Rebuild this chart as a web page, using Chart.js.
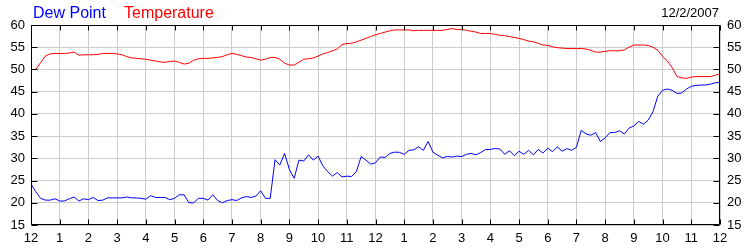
<!DOCTYPE html>
<html>
<head>
<meta charset="utf-8">
<script src="https://cdn.jsdelivr.net/npm/chart.js@4/dist/chart.umd.min.js"></script>
<style>
  html, body { margin: 0; padding: 0; background: #fff; }
  #wrap { position: relative; width: 750px; height: 250px; }
</style>
</head>
<body>
<div id="wrap"><canvas id="weather"></canvas></div>
<script>
// readings every 10 minutes, midnight to midnight (0..24 h)
const hours = []
for (let i = 0; i <= 144; i++) hours.push(i / 6)

const temperature = [
  50.0, 50.0, 51.5, 53.0, 53.5, 53.6,
  53.6, 53.6, 53.7, 53.9, 53.2, 53.3,
  53.3, 53.3, 53.4, 53.6, 53.6, 53.6,
  53.5, 53.3, 52.9, 52.6, 52.5, 52.4,
  52.3, 52.1, 51.9, 51.7, 51.6, 51.8,
  51.9, 51.6, 51.2, 51.4, 52.1, 52.4,
  52.5, 52.5, 52.6, 52.7, 52.9, 53.3,
  53.6, 53.4, 53.1, 52.8, 52.7, 52.4,
  52.1, 52.3, 52.7, 52.7, 52.3, 51.4,
  51.0, 51.0, 51.6, 52.3, 52.4, 52.6,
  53.0, 53.5, 53.8, 54.2, 54.6, 55.6,
  55.8, 55.9, 56.2, 56.6, 57.0, 57.4,
  57.8, 58.1, 58.4, 58.7, 58.9, 58.9,
  58.9, 58.9, 58.7, 58.8, 58.8, 58.8,
  58.8, 58.8, 58.8, 59.0, 59.2, 59.0,
  59.0, 58.8, 58.6, 58.4, 58.1, 58.1,
  58.1, 57.9, 57.7, 57.6, 57.4, 57.2,
  57.0, 56.7, 56.4, 56.2, 55.9, 55.5,
  55.4, 55.1, 54.9, 54.8, 54.7, 54.7,
  54.7, 54.7, 54.6, 54.3, 53.9, 53.9,
  54.1, 54.2, 54.2, 54.2, 54.4, 55.0,
  55.5, 55.5, 55.5, 55.4, 55.0, 54.3,
  52.9, 51.9, 50.4, 48.4, 48.1, 48.0,
  48.3, 48.4, 48.4, 48.4, 48.4, 48.7,
  49.0
]

const dewPoint = [
  24.2, 22.5, 21.0, 20.6, 20.6, 20.9,
  20.4, 20.4, 20.9, 21.3, 20.4, 20.9,
  20.7, 21.2, 20.5, 20.6, 21.1, 21.1,
  21.1, 21.1, 21.3, 21.1, 21.1, 21.0,
  20.8, 21.6, 21.2, 21.2, 21.2, 20.7,
  21.0, 21.8, 21.8, 20.0, 20.0, 21.0,
  21.0, 20.6, 21.8, 20.5, 20.0, 20.5,
  20.7, 20.5, 21.1, 21.4, 21.2, 21.5,
  22.7, 21.0, 21.0, 29.7, 28.5, 31.1,
  27.5, 25.5, 29.6, 29.4, 30.8, 29.6,
  30.5, 28.3, 27.0, 26.0, 26.8, 25.8,
  26.0, 25.9, 27.0, 30.4, 29.6, 28.7,
  29.0, 30.3, 30.2, 31.1, 31.4, 31.35,
  30.9, 31.8, 31.9, 32.6, 31.8, 33.8,
  31.4, 30.7, 30.1, 30.4, 30.3, 30.5,
  30.4, 30.9, 31.1, 30.8, 31.3, 32.0,
  32.0, 32.2, 32.1, 30.9, 31.7, 30.6,
  31.6, 30.9, 31.8, 30.8, 32.0, 31.2,
  32.3, 31.5, 32.6, 31.6, 32.2, 31.8,
  32.5, 36.3, 35.5, 35.2, 35.8, 33.8,
  34.6, 35.8, 35.8, 36.2, 35.5, 36.8,
  37.3, 38.3, 37.7, 38.6, 40.5, 44.0,
  45.3, 45.6, 45.3, 44.6, 44.7, 45.6,
  46.2, 46.4, 46.5, 46.5, 46.7, 47.0,
  47.1
]

const hourLabels = ["12", "1", "2", "3", "4", "5", "6", "7", "8", "9", "10", "11",
  "12", "1", "2", "3", "4", "5", "6", "7", "8", "9", "10", "11", "12"]
const seriesNames = ["Dew Point", "Temperature"]
const dateLabel = "12/2/2007"

const FONT = "Arial, 'Liberation Sans', sans-serif"

// frame, inward tick marks, header texts
const framePlugin = {
  id: "frame",
  afterDraw(chart) {
    const { ctx, chartArea: a, scales } = chart
    const L = Math.round(a.left) + 0.5
    const R = Math.round(a.right) - 0.5
    const T = Math.round(a.top) + 0.5
    const B = Math.round(a.bottom) - 0.5
    ctx.save()
    ctx.strokeStyle = "#000"
    ctx.lineWidth = 1
    ctx.beginPath()
    ctx.rect(L, T, R - L, B - T)
    scales.x.ticks.forEach(t => {
      const px = Math.round(scales.x.getPixelForValue(t.value)) + 0.5
      ctx.moveTo(px, T); ctx.lineTo(px, T + 5)
      ctx.moveTo(px, B); ctx.lineTo(px, B - 5)
    })
    scales.y.ticks.forEach(t => {
      const py = Math.round(scales.y.getPixelForValue(t.value)) + 0.5
      ctx.moveTo(L, py); ctx.lineTo(L + 6, py)
      ctx.moveTo(R, py); ctx.lineTo(R - 6, py)
    })
    ctx.stroke()

    ctx.font = "16px " + FONT
    ctx.textBaseline = "alphabetic"
    ctx.textAlign = "left"
    ctx.fillStyle = "#0000ff"
    ctx.fillText(seriesNames[0], 33, 18)
    ctx.fillStyle = "#ff0000"
    ctx.fillText(seriesNames[1], 124, 18)
    ctx.font = "13px " + FONT
    ctx.fillStyle = "#000"
    ctx.textAlign = "right"
    ctx.fillText(dateLabel, 719, 17)
    ctx.restore()
  }
}

const tickFont = { family: FONT, size: 13 }

new Chart(document.getElementById("weather"), {
  type: "line",
  data: {
    datasets: [
      {
        label: seriesNames[0],
        data: hours.map((h, i) => ({ x: h, y: dewPoint[i] })),
        borderColor: "#0000ff",
        borderWidth: 1,
        pointRadius: 0,
        tension: 0,
        yAxisID: "y"
      },
      {
        label: seriesNames[1],
        data: hours.map((h, i) => ({ x: h, y: temperature[i] })),
        borderColor: "#ff0000",
        borderWidth: 1,
        pointRadius: 0,
        tension: 0,
        yAxisID: "y"
      }
    ]
  },
  options: {
    responsive: true,
    maintainAspectRatio: false,
    animation: false,
    events: [],
    layout: { padding: { top: 25, left: 0, right: 0, bottom: 0 } },
    plugins: {
      legend: { display: false },
      tooltip: { enabled: false }
    },
    scales: {
      x: {
        type: "linear",
        min: 0,
        max: 24,
        afterFit: s => { s.height = 25 },
        grid: { color: "#cccccc", drawTicks: false },
        border: { display: false },
        ticks: {
          stepSize: 1,
          autoSkip: false,
          maxRotation: 0,
          padding: 6,
          color: "#000",
          font: tickFont,
          callback: v => hourLabels[v]
        }
      },
      y: {
        position: "left",
        min: 15,
        max: 60,
        afterFit: s => { s.width = 31 },
        grid: { color: "#cccccc", drawTicks: false },
        border: { display: false },
        ticks: { stepSize: 5, padding: 6, color: "#000", font: tickFont }
      },
      y2: {
        position: "right",
        min: 15,
        max: 60,
        afterFit: s => { s.width = 30 },
        grid: { display: false, drawTicks: false },
        border: { display: false },
        ticks: { stepSize: 5, padding: 7, color: "#000", font: tickFont }
      }
    }
  },
  plugins: [framePlugin]
})
</script>
</body>
</html>
